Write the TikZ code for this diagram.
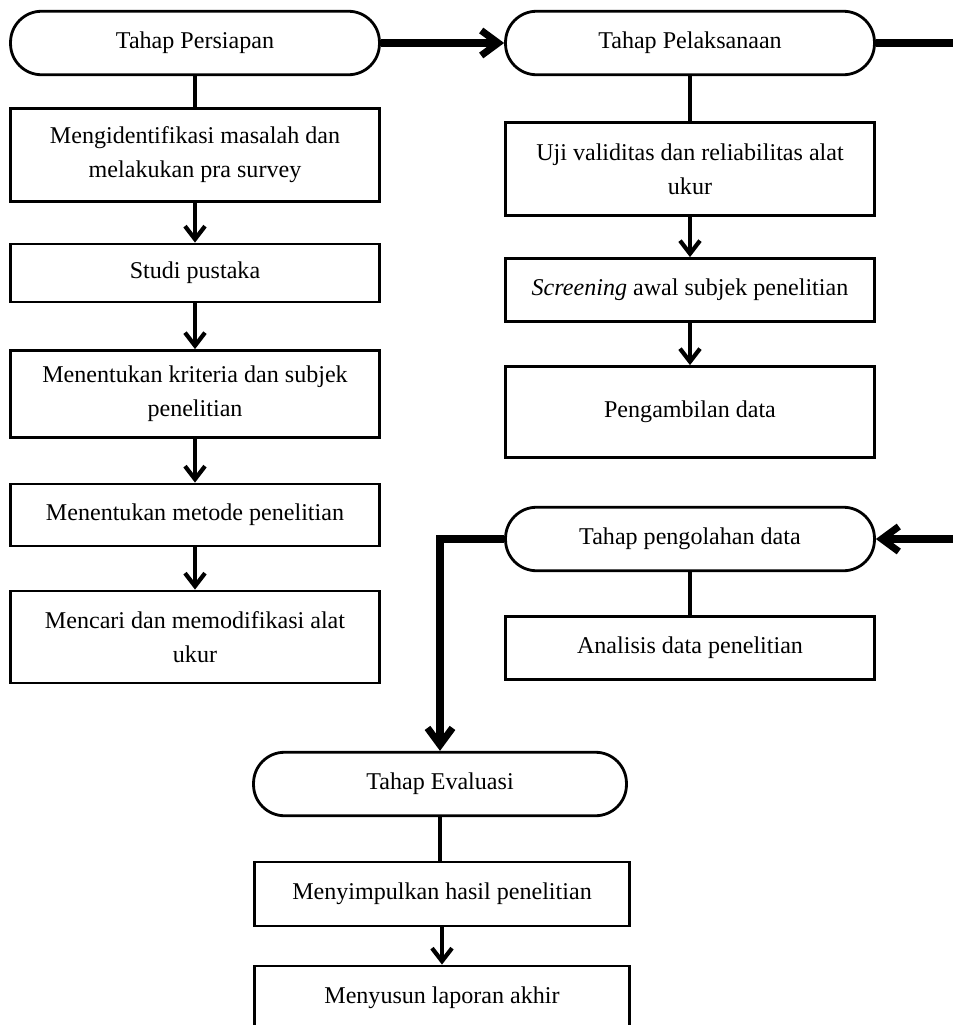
\documentclass[tikz,border=0pt]{standalone}
\usepackage{fontspec}
\setmainfont{Liberation Serif}
\usetikzlibrary{arrows.meta}

\begin{document}
\begin{tikzpicture}[
  x=0.02cm, y=-0.02cm,
  box/.style={rectangle, draw, line width=1.6pt, minimum width=7.38cm, align=center, inner sep=0pt, font=\fontsize{13.7}{19.3}\selectfont},
  stage/.style={box, rounded corners=0.62cm, minimum height=1.27cm},
  link/.style={line width=2.4pt},
  arrow/.style={link, -{Straight Barb[length=0.26cm, width=0.4cm]}},
  mainarrow/.style={line width=4pt, -{Straight Barb[length=0.34cm, width=0.5cm]}}
]
  \useasboundingbox (0,0) rectangle (953,1025);

  % Tahap Persiapan (left column)
  \node[stage] (persiapan) at (195,43) {Tahap Persiapan};
  \node[box, minimum height=1.86cm] (identifikasi) at (195,155) {Mengidentifikasi masalah dan\\melakukan pra survey};
  \node[box, minimum height=1.16cm] (pustaka) at (195,273) {Studi pustaka};
  \node[box, minimum height=1.74cm] (kriteria) at (195,394) {Menentukan kriteria dan subjek\\penelitian};
  \node[box, minimum height=1.24cm] (metode) at (195,515) {Menentukan metode penelitian};
  \node[box, minimum height=1.84cm] (alat) at (195,637) {Mencari dan memodifikasi alat\\ukur};

  % Tahap Pelaksanaan (right column)
  \node[stage] (pelaksanaan) at (690,43) {Tahap Pelaksanaan};
  \node[box, minimum height=1.86cm] (validitas) at (690,169) {Uji validitas dan reliabilitas alat\\ukur};
  \node[box, minimum height=1.26cm] (screening) at (690,290) {\textit{Screening} awal subjek penelitian};
  \node[box, minimum height=1.82cm] (pengambilan) at (690,412) {Pengambilan data};

  % Tahap pengolahan data
  \node[stage] (pengolahan) at (690,539) {Tahap pengolahan data};
  \node[box, minimum height=1.26cm] (analisis) at (690,648) {Analisis data penelitian};

  % Tahap Evaluasi (bottom)
  \node[stage, minimum width=7.46cm] (evaluasi) at (440,784) {Tahap Evaluasi};
  \node[box, minimum width=7.5cm, minimum height=1.28cm] (simpulkan) at (442,894) {Menyimpulkan hasil penelitian};
  \node[box, minimum width=7.5cm, minimum height=1.28cm] (laporan) at (442,998) {Menyusun laporan akhir};

  \coordinate (edge) at (962,43);

  % Arrows inside the columns
  \draw[link] (persiapan.south) -- (identifikasi.north);
  \draw[arrow] (identifikasi.south) -- (pustaka.north);
  \draw[arrow] (pustaka.south) -- (kriteria.north);
  \draw[arrow] (kriteria.south) -- (metode.north);
  \draw[arrow] (metode.south) -- (alat.north);

  \draw[link] (pelaksanaan.south) -- (validitas.north);
  \draw[arrow] (validitas.south) -- (screening.north);
  \draw[arrow] (screening.south) -- (pengambilan.north);

  \draw[link] (pengolahan.south) -- (analisis.north);
  \draw[link] (evaluasi.south) -- (evaluasi.south |- simpulkan.north);
  \draw[arrow] (simpulkan.south) -- (laporan.north);

  % Arrows between the stages
  \draw[mainarrow] (persiapan.east) -- (pelaksanaan.west);
  \draw[mainarrow] (pelaksanaan.east) -- (edge) |- (pengolahan.east);
  \draw[mainarrow] (pengolahan.west) -| (evaluasi.north);
\end{tikzpicture}
\end{document}
